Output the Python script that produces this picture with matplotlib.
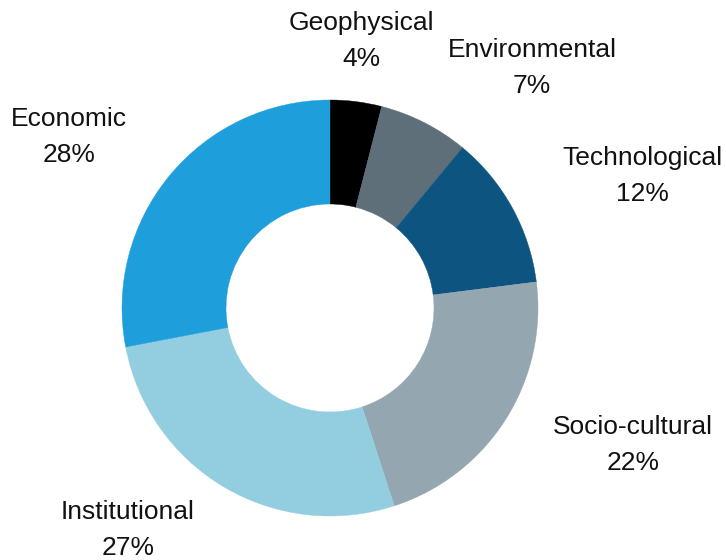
import matplotlib
matplotlib.use("Agg")
import matplotlib.pyplot as plt

categories = ["Geophysical", "Environmental", "Technological",
              "Socio-cultural", "Institutional", "Economic"]
shares = [4, 7, 12, 22, 27, 28]
colors = ["#000000", "#5e6f7a", "#0d5481", "#94a6b0", "#93cde0", "#1e9edb"]

plt.rcParams["font.family"] = ["Liberation Sans", "DejaVu Sans"]

W, H = 726, 560
R = 208.0               # outer radius in pixels
cx, cy = 330.0, 308.0   # donut centre in pixels (from top-left)

# label centres in pixels (from top-left)
label_px = [(361, 41), (532, 68), (642, 176),
            (633, 445), (128, 530), (69, 137)]

fig = plt.figure(figsize=(W / 100, H / 100), dpi=100)
ax = fig.add_axes([0, 0, 1, 1])

wedges, _ = ax.pie(shares, colors=colors, startangle=90, counterclock=False,
                   radius=1.0, wedgeprops=dict(width=0.5, linewidth=0),
                   frame=True)
for w in wedges:
    w.set_edgecolor(w.get_facecolor())
    w.set_linewidth(0.3)

ax.set_xlim(-cx / R, (W - cx) / R)
ax.set_ylim(-(H - cy) / R, cy / R)
ax.set_aspect("auto")
ax.axis("off")

for name, val, (px, py) in zip(categories, shares, label_px):
    x = (px - cx) / R
    y = (cy - py) / R
    ax.text(x, y, f"{name}\n{val}%", ha="center", va="center",
            fontsize=19, linespacing=1.6, color="#111111")

fig.savefig("out.png", dpi=100)
